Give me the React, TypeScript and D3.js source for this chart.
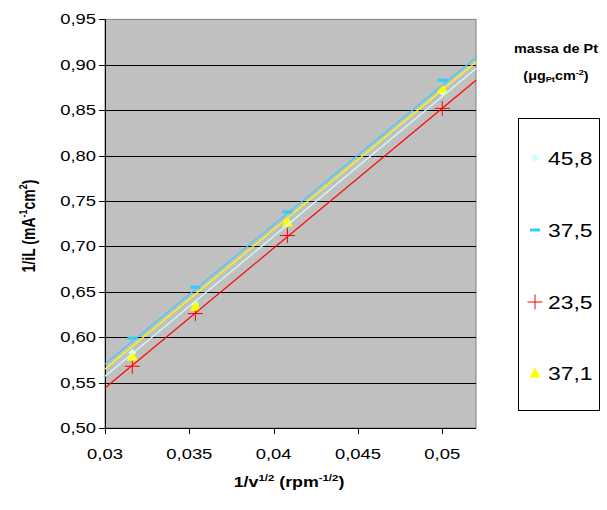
import React from 'react';
import * as d3 from 'd3';

// ---- data ----
const xValues = [0.03162, 0.03536, 0.04082, 0.05];
const seriesNames = ['45,8', '37,5', '23,5', '37,1'];
const s458 = [0.583, 0.636, 0.727, 0.870];
const s375 = [0.599, 0.655, 0.738, 0.883];
const s235 = [0.568, 0.626, 0.712, 0.852];
const s371 = [0.579, 0.634, 0.727, 0.874];
// linear trendlines, values at the two ends of the x range
const trendX = [0.03, 0.052];
const trend458 = [0.557, 0.896];
const trend375 = [0.5705, 0.908];
const trend235 = [0.544, 0.883];
const trend371 = [0.565, 0.903];
const yTicks = [0.5, 0.55, 0.6, 0.65, 0.7, 0.75, 0.8, 0.85, 0.9, 0.95];
const xTicks = [0.03, 0.035, 0.04, 0.045, 0.05];

const colors = ['#ccffff', '#33ccff', '#ff0000', '#ffff00'];
const markers = ['diamond', 'dash', 'plus', 'triangle'];
const seriesValues = [s458, s375, s235, s371];
const trends = [trend458, trend375, trend235, trend371];

const W = 607, H = 510;
const L = 105, R = 476, T = 19.4, B = 428;
const SX = 1.27; // horizontal stretch of the text in the reference
const FONT = 'Liberation Sans, Arial, Helvetica, sans-serif';

function Marker({ type, x, y, color }: { type: string; x: number; y: number; color: string }) {
  if (type === 'diamond') {
    const s = 4;
    return <path d={`M${x},${y - s}L${x + s},${y}L${x},${y + s}L${x - s},${y}Z`} fill={color} />;
  }
  if (type === 'dash') {
    return <rect x={x - 5} y={y - 1.5} width={10} height={3} fill={color} />;
  }
  if (type === 'plus') {
    const s = 7.5;
    return (
      <path d={`M${x - s},${y}H${x + s}M${x},${y - s}V${y + s}`} stroke={color} strokeWidth={1} fill="none" />
    );
  }
  const s = 5.5;
  return <path d={`M${x},${y - s}L${x + s},${y + s - 1}L${x - s},${y + s - 1}Z`} fill={color} />;
}

export default function App() {
  const x = d3.scaleLinear().domain([0.03, 0.052]).range([L, R]);
  const y = d3.scaleLinear().domain([0.5, 0.95]).range([B, T]);
  const fmtY = (v: number) => d3.format('.2f')(v).replace('.', ',');
  const fmtX = (v: number) => String(+v.toFixed(3)).replace('.', ',');
  const line = d3
    .line<number>()
    .x((_, i) => x(trendX[i]))
    .y((d) => y(d));

  const legendY = [158, 230, 302, 373];

  return (
    <svg
      width={W}
      height={H}
      style={{ position: 'absolute', left: 0, top: 0, background: '#fff' }}
      fontFamily={FONT}
    >
      <rect x={0} y={0} width={W} height={H} fill="#fff" />
      {/* plot area */}
      <rect x={L} y={T} width={R - L} height={B - T} fill="#c0c0c0" stroke="#808080" strokeWidth={1} />
      {yTicks.slice(1, -1).map((t) => (
        <line key={t} x1={L} x2={R} y1={Math.round(y(t)) + 0.5} y2={Math.round(y(t)) + 0.5} stroke="#000" strokeWidth={1} />
      ))}
      {/* axes */}
      <line x1={L + 0.5} x2={L + 0.5} y1={T} y2={B} stroke="#000" strokeWidth={1} />
      <line x1={L} x2={R} y1={B + 0.5} y2={B + 0.5} stroke="#000" strokeWidth={1} />
      {yTicks.map((t) => (
        <g key={t}>
          <line x1={L - 6} x2={L} y1={Math.round(y(t)) + 0.5} y2={Math.round(y(t)) + 0.5} stroke="#000" />
          <text
            transform={`translate(${L - 9},${y(t) + 5}) scale(${SX},1)`}
            textAnchor="end"
            fontSize={14.5}
            fill="#000"
          >
            {fmtY(t)}
          </text>
        </g>
      ))}
      {xTicks.map((t) => (
        <g key={t}>
          <line x1={Math.round(x(t)) + 0.5} x2={Math.round(x(t)) + 0.5} y1={B} y2={B + 6} stroke="#000" />
          <text
            transform={`translate(${x(t)},${459}) scale(${SX},1)`}
            textAnchor="middle"
            fontSize={14.5}
            fill="#000"
          >
            {fmtX(t)}
          </text>
        </g>
      ))}

      {/* markers */}
      {seriesValues.map((vals, si) =>
        vals.map((v, i) => (
          <Marker key={`${si}-${i}`} type={markers[si]} x={x(xValues[i])} y={y(v)} color={colors[si]} />
        ))
      )}
      {/* trendlines */}
      {[0, 1, 2, 3].map((si) => (
        <path key={si} d={line(trends[si]) || ''} stroke={colors[si]} strokeWidth={1.2} fill="none" />
      ))}

      {/* axis titles */}
      <text
        transform={`translate(289,487) scale(${SX},1)`}
        textAnchor="middle"
        fontSize={14}
        fontWeight="bold"
      >
        1/v<tspan fontSize={9} dy={-6}>1/2</tspan>
        <tspan dy={6}> (rpm</tspan>
        <tspan fontSize={9} dy={-6}>-1/2</tspan>
        <tspan dy={6}>)</tspan>
      </text>
      <text
        transform={`translate(35,226) scale(${SX},1) rotate(-90)`}
        textAnchor="middle"
        fontSize={14}
        fontWeight="bold"
      >
        1/iL (mA<tspan fontSize={9} dy={-6}>-1</tspan>
        <tspan dy={6}>cm</tspan>
        <tspan fontSize={9} dy={-6}>2</tspan>
        <tspan dy={6}>)</tspan>
      </text>

      {/* legend */}
      <text transform={`translate(556,53) scale(1.15,1)`} textAnchor="middle" fontSize={12.5} fontWeight="bold">
        massa de Pt
      </text>
      <text transform={`translate(556,80) scale(1.15,1)`} textAnchor="middle" fontSize={12.5} fontWeight="bold">
        (μg<tspan fontSize={8} dy={2}>Pt</tspan>
        <tspan dy={-2}>cm</tspan>
        <tspan fontSize={8} dy={-5}>-2</tspan>
        <tspan dy={5}>)</tspan>
      </text>
      <rect x={518.5} y={118.5} width={81} height={292} fill="#fff" stroke="#000" strokeWidth={1} />
      {seriesNames.map((n, i) => (
        <g key={n + i}>
          <Marker type={markers[i]} x={535} y={legendY[i]} color={colors[i]} />
          <text transform={`translate(548,${legendY[i] + 6.5}) scale(${SX},1)`} fontSize={18} fill="#000">
            {n}
          </text>
        </g>
      ))}
    </svg>
  );
}
